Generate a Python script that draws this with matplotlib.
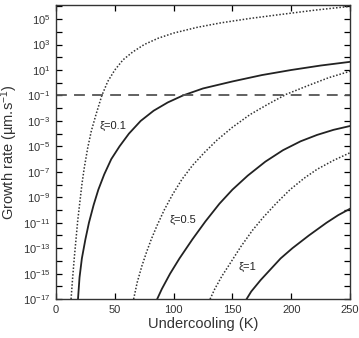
import numpy as np
import matplotlib
matplotlib.use('Agg')
import matplotlib.pyplot as plt

plt.rcParams['font.family'] = ['Liberation Sans', 'DejaVu Sans']
plt.rcParams['mathtext.fontset'] = 'custom'
plt.rcParams['mathtext.rm'] = 'Liberation Sans'
plt.rcParams['mathtext.default'] = 'regular'

# curves: undercooling (K) vs log10 growth rate
c1_x = [12.8, 14, 15.5, 17, 18.5, 20, 22, 24, 27, 30, 34, 39, 44, 50, 57, 65, 75, 87,
        100, 120, 140, 165, 190, 220, 250]
c1_y = [-17, -15.5, -13.8, -12.3, -10.8, -9.6, -8.0, -6.7, -5.1, -3.8, -2.5, -1.0, 0.1,
        1.0, 1.8, 2.4, 3.0, 3.5, 3.9, 4.35, 4.7, 5.05, 5.35, 5.7, 6.0]

c2_x = [18.7, 20, 22, 25, 28, 32, 36, 41, 47, 54, 62, 72, 83, 95, 108, 125, 150, 175,
        200, 225, 250]
c2_y = [-17, -15.3, -13.8, -12.3, -11.0, -9.6, -8.4, -7.2, -6.0, -5.0, -4.0, -3.0, -2.2,
        -1.55, -1.0, -0.45, 0.1, 0.6, 1.0, 1.35, 1.64]

c3_x = [66, 69, 73, 77, 81, 86, 92, 99, 107, 116, 126, 137, 150, 165, 180, 196, 215,
        232, 250]
c3_y = [-17, -15.7, -14.4, -13.3, -12.3, -11.2, -10.0, -8.8, -7.6, -6.5, -5.5, -4.5,
        -3.5, -2.5, -1.7, -0.9, -0.2, 0.4, 0.9]

c4_x = [86, 90, 97, 105, 116, 127, 139, 150, 163, 178, 193, 208, 222, 236, 250]
c4_y = [-17, -16.2, -15.0, -13.8, -12.3, -10.9, -9.5, -8.4, -7.3, -6.2, -5.3, -4.6,
        -4.1, -3.7, -3.4]

c5_x = [131, 135, 141, 148, 157, 167, 176, 187, 199, 211, 222, 236, 250]
c5_y = [-17, -16.2, -15.2, -14.2, -12.9, -11.6, -10.6, -9.5, -8.4, -7.5, -6.8, -6.1, -5.5]

c6_x = [162, 166, 174, 182, 191, 201, 215, 230, 240, 250]
c6_y = [-17, -16.4, -15.5, -14.7, -13.8, -13.0, -12.0, -11.0, -10.4, -9.9]

threshold = 1e-1
labels = ['ξ=0.1', 'ξ=0.5', 'ξ=1']
label_pos = [(48.5, -3.4), (108, -10.8), (163, -14.5)]

fig = plt.figure(figsize=(3.59, 3.38), dpi=100)
ax = fig.add_axes([0.156, 0.115, 0.819, 0.870])

dotted = dict(color='#333333', lw=1.1, linestyle=(0, (1, 1.2)))
solid = dict(color='#222222', lw=1.3)

for xs, ys, st in [(c1_x, c1_y, dotted), (c2_x, c2_y, solid),
                   (c3_x, c3_y, dotted), (c4_x, c4_y, solid),
                   (c5_x, c5_y, dotted), (c6_x, c6_y, solid)]:
    ax.plot(xs, 10.0 ** np.array(ys), **st)

ax.axhline(threshold, color='#555555', lw=1.3, linestyle=(0, (6, 4)))

for txt, (x, y) in zip(labels, label_pos):
    ax.text(x, 10 ** y, txt, fontsize=8, ha='center', va='center', color='#222222')

ax.set_yscale('log')
ax.set_xlim(0, 250)
ax.set_ylim(1e-17, 10 ** 6.1)
ax.set_xticks([0, 50, 100, 150, 200, 250])
exps = list(range(-17, 7))
ax.set_yticks([10.0 ** k for k in exps])
ax.set_yticklabels([f'$10^{{{k}}}$' if k % 2 != 0 else '' for k in exps])
ax.yaxis.set_minor_locator(matplotlib.ticker.NullLocator())
ax.tick_params(direction='in', top=True, right=True, length=4, width=0.9,
               labelsize=8, labelcolor='#333333', pad=4)
for s in ax.spines.values():
    s.set_linewidth(1.0)
    s.set_color('#333333')

ax.set_xlabel('Undercooling (K)', fontsize=10.5, color='#333333', labelpad=2)
ax.set_ylabel('Growth rate (µm.s$^{-1}$)', fontsize=10.5, color='#333333', labelpad=2)

fig.savefig('out.png', dpi=100)
